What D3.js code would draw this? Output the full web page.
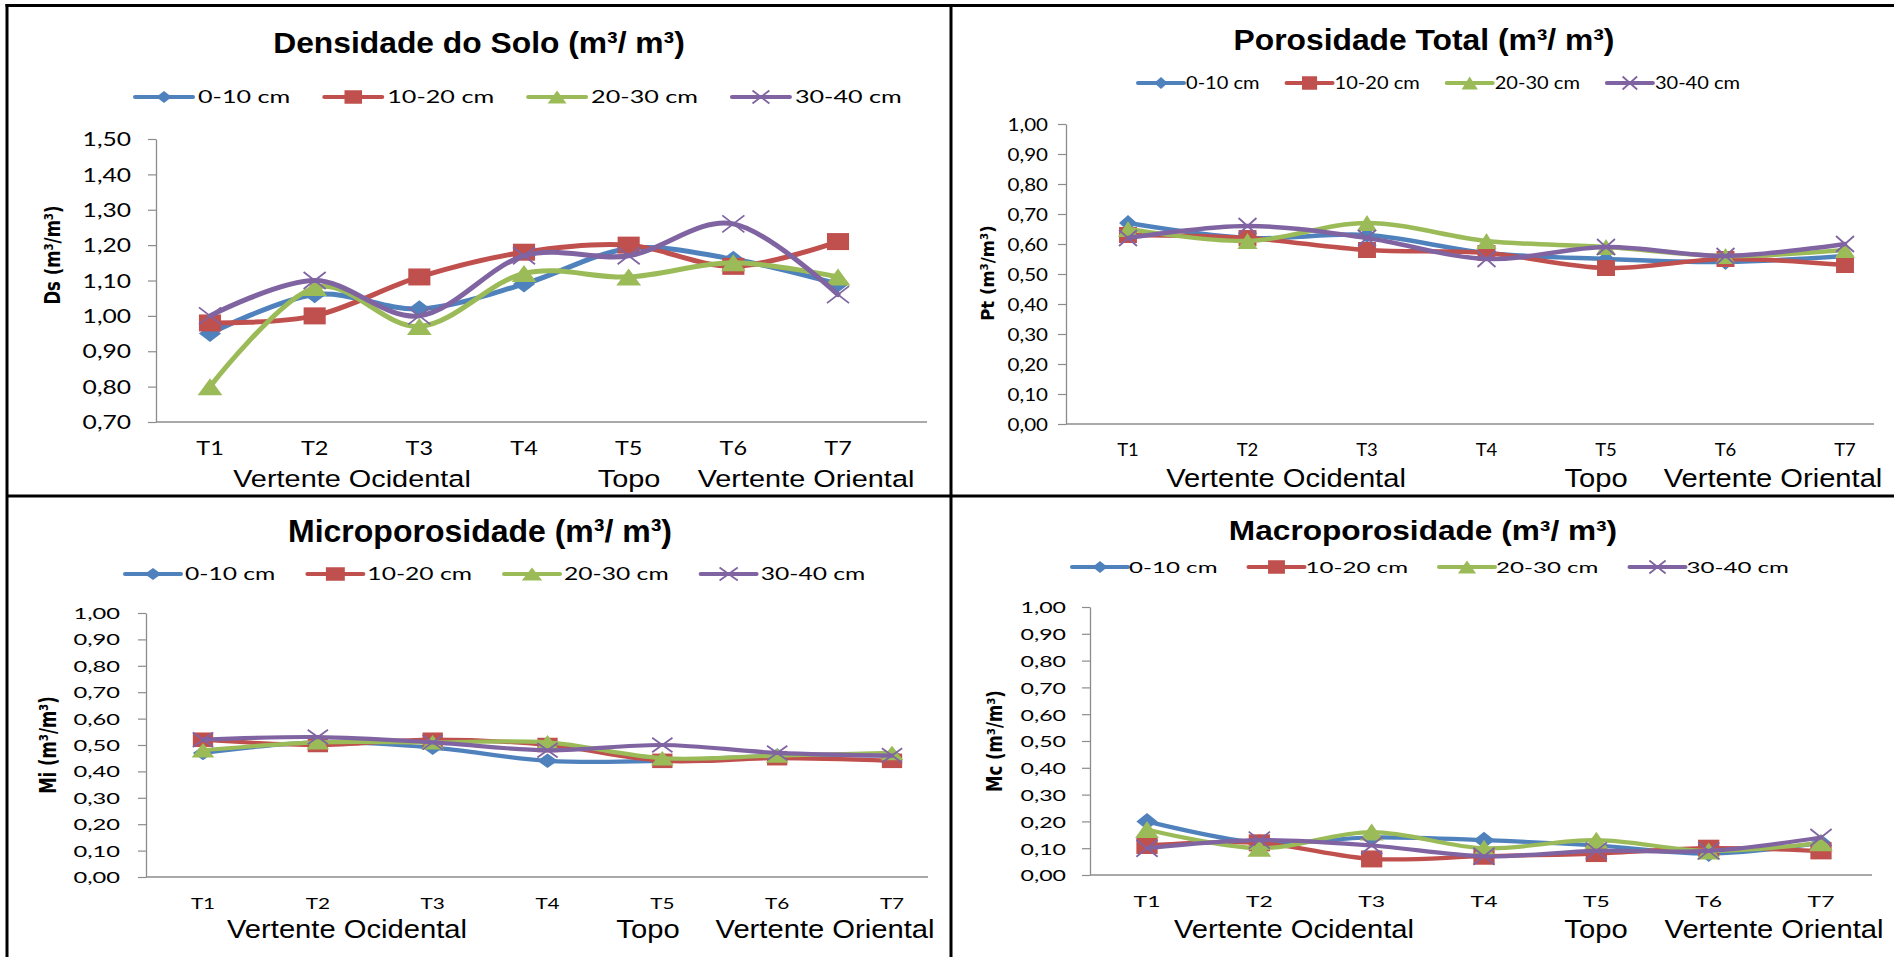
<!DOCTYPE html>
<html>
<head>
<meta charset="utf-8">
<script src="https://d3js.org/d3.v7.min.js"></script>
<style>
  body { margin: 0; background: #fff; }
  svg { display: block; }
</style>
</head>
<body>
<svg width="1894" height="957"></svg>
<script>
// ---- data ----
const categories = ["T1", "T2", "T3", "T4", "T5", "T6", "T7"];
const seriesNames = ["0-10 cm", "10-20 cm", "20-30 cm", "30-40 cm"];
const seriesColors = ["#4F81BD", "#C0504D", "#9BBB59", "#8064A2"];
const seriesMarkers = ["diamond", "square", "triangle", "x"];
const regionLabels = ["Vertente Ocidental", "Topo", "Vertente Oriental"];

// Densidade do Solo
const dsValues = [
    [0.95, 1.06, 1.02, 1.09, 1.19, 1.16, 1.09],
    [0.98, 1.00, 1.11, 1.18, 1.20, 1.14, 1.21],
    [0.80, 1.08, 0.97, 1.12, 1.11, 1.15, 1.11],
    [1.00, 1.10, 1.00, 1.17, 1.17, 1.26, 1.06]
];
const dsTicks = [0.70, 0.80, 0.90, 1.00, 1.10, 1.20, 1.30, 1.40, 1.50];

// Porosidade Total
const ptValues = [
    [0.67, 0.62, 0.63, 0.57, 0.55, 0.54, 0.56],
    [0.63, 0.62, 0.58, 0.57, 0.52, 0.55, 0.53],
    [0.65, 0.61, 0.67, 0.61, 0.59, 0.56, 0.58],
    [0.62, 0.66, 0.62, 0.55, 0.59, 0.56, 0.60]
];

// Microporosidade
const miValues = [
    [0.47, 0.51, 0.49, 0.44, 0.44, 0.46, 0.46],
    [0.52, 0.50, 0.52, 0.50, 0.44, 0.45, 0.44],
    [0.48, 0.51, 0.51, 0.51, 0.45, 0.46, 0.47],
    [0.52, 0.53, 0.51, 0.48, 0.50, 0.47, 0.46]
];

// Macroporosidade
const mcValues = [
    [0.20, 0.12, 0.14, 0.13, 0.11, 0.08, 0.12],
    [0.11, 0.12, 0.06, 0.07, 0.08, 0.10, 0.09],
    [0.17, 0.10, 0.16, 0.10, 0.13, 0.09, 0.12],
    [0.10, 0.13, 0.11, 0.07, 0.09, 0.09, 0.14]
];
const poroTicks = [0, 0.10, 0.20, 0.30, 0.40, 0.50, 0.60, 0.70, 0.80, 0.90, 1.00];

// ---- layout ----
const panels = [
    { title: "Densidade do Solo (m³/ m³)", yTitle: "Ds (m³/m³)", values: dsValues, ticks: dsTicks,
      x0: 156, xEnd: 927, xFirst: 210, xLast: 838, yTop: 139, yBot: 422,
      titleX: 479, titleY: 53, titleSize: 30, titleSx: 1.06,
      leg: { x: 135, y: 97, len: 58, gap: 5, space: 34, size: 17.6, sx: 1.43 },
      tickPad: 25, tickSize: 18.5, tickSx: 1.33,
      catY: 448, catSize: 18.5, catSx: 1.27,
      yTitleX: 52, yTitleY: 255, sx: 1.3,
      regX: [352, 629, 806], regY: 487, regSize: 23.3, regSx: 1.24,
      lw: 5, mh: 17 },
    { title: "Porosidade Total (m³/ m³)", yTitle: "Pt (m³/m³)", values: ptValues, ticks: poroTicks,
      x0: 1066, xEnd: 1874, xFirst: 1128, xLast: 1845, yTop: 124, yBot: 424,
      titleX: 1424, titleY: 50, titleSize: 29.3, titleSx: 1.085,
      leg: { x: 1138, y: 83, len: 46, gap: 2, space: 27, size: 17.6, sx: 1.14 },
      tickPad: 18, tickSize: 17, tickSx: 1.21,
      catY: 450, catSize: 17.6, catSx: 1.05,
      yTitleX: 987, yTitleY: 273, sx: 1.12,
      regX: [1286, 1596, 1773], regY: 487, regSize: 26.5, regSx: 1.1,
      lw: 4.5, mh: 16 },
    { title: "Microporosidade (m³/ m³)", yTitle: "Mi (m³/m³)", values: miValues, ticks: poroTicks,
      x0: 146, xEnd: 928, xFirst: 203, xLast: 892, yTop: 613, yBot: 877,
      titleX: 480, titleY: 542, titleSize: 32, titleSx: 1.0,
      leg: { x: 125, y: 574, len: 56, gap: 4, space: 32, size: 17.6, sx: 1.4 },
      tickPad: 26, tickSize: 15.3, tickSx: 1.55,
      catY: 903, catSize: 15.7, catSx: 1.32,
      yTitleX: 48, yTitleY: 745, sx: 1.4,
      regX: [347, 648, 825], regY: 938, regSize: 25.6, regSx: 1.14,
      lw: 4.2, mh: 14.5 },
    { title: "Macroporosidade (m³/ m³)", yTitle: "Mc (m³/m³)", values: mcValues, ticks: poroTicks,
      x0: 1090, xEnd: 1872, xFirst: 1147, xLast: 1821, yTop: 607, yBot: 875,
      titleX: 1423, titleY: 540, titleSize: 28, titleSx: 1.13,
      leg: { x: 1072, y: 567, len: 56, gap: 1, space: 31, size: 16.2, sx: 1.49 },
      tickPad: 24, tickSize: 16.2, tickSx: 1.43,
      catY: 901, catSize: 15.3, catSx: 1.5,
      yTitleX: 995, yTitleY: 741, sx: 1.25,
      regX: [1294, 1596, 1774], regY: 938, regSize: 25.6, regSx: 1.14,
      lw: 4.2, mh: 17 }
];

const axisColor = "#8c8c8c";
const calibri = "Lato, 'Open Sans', sans-serif";
const arial = "'Liberation Sans', Arial, sans-serif";
const verdana = "'DejaVu Sans', Verdana, sans-serif";

const svg = d3.select("svg");
const fmt = d3.formatLocale({ decimal: ",", thousands: ".", grouping: [3], currency: ["", ""] }).format(".2f");

// text with a horizontal stretch (the original charts were stretched sideways)
function txt(g, x, y, s, o) {
    let tr = `translate(${x},${y}) scale(${o.sx || 1},1)`;
    if (o.rot) tr += ` rotate(${o.rot})`;
    return g.append("text")
        .attr("transform", tr)
        .attr("text-anchor", o.anchor || "middle")
        .attr("dy", o.dy || 0)
        .style("font-family", o.font)
        .style("font-size", o.size + "px")
        .style("font-weight", o.weight || "normal")
        .attr("fill", "#000")
        .text(s);
}

function marker(g, type, cx, cy, h, sx, color) {
    const hh = h / 2, hw = h * sx / 2;
    if (type === "diamond") {
        g.append("path").attr("d", `M${cx},${cy - hh}L${cx + hw},${cy}L${cx},${cy + hh}L${cx - hw},${cy}Z`)
            .attr("fill", color);
    } else if (type === "square") {
        g.append("rect").attr("x", cx - hw).attr("y", cy - hh).attr("width", hw * 2).attr("height", h)
            .attr("fill", color);
    } else if (type === "triangle") {
        const tw = hw * 1.12;
        g.append("path").attr("d", `M${cx},${cy - hh}L${cx + tw},${cy + hh}L${cx - tw},${cy + hh}Z`)
            .attr("fill", color);
    } else {
        g.append("path").attr("d", `M${cx - hw},${cy - hh}L${cx + hw},${cy + hh}M${cx + hw},${cy - hh}L${cx - hw},${cy + hh}`)
            .attr("stroke", color).attr("stroke-width", 1.8).attr("fill", "none");
    }
}

function drawPanel(p) {
    const g = svg.append("g");
    const x = d3.scalePoint().domain(categories).range([p.xFirst, p.xLast]);
    const y = d3.scaleLinear().domain(d3.extent(p.ticks)).range([p.yBot, p.yTop]);

    // y axis
    const ya = g.append("g").attr("transform", `translate(${p.x0},0)`)
        .call(d3.axisLeft(y).tickValues(p.ticks).tickSize(8).tickSizeOuter(0).tickFormat(fmt));
    ya.attr("font-family", null).attr("font-size", null);
    ya.select(".domain").attr("stroke", axisColor).attr("stroke-width", 1.3);
    ya.selectAll(".tick line").attr("stroke", axisColor).attr("stroke-width", 1.2);
    ya.selectAll(".tick text")
        .attr("x", 0).attr("dy", "0.36em")
        .attr("transform", `translate(${-p.tickPad},0) scale(${p.tickSx},1)`)
        .attr("fill", "#000")
        .style("font-family", calibri).style("font-size", p.tickSize + "px");

    // x axis line
    g.append("line")
        .attr("x1", p.x0).attr("x2", p.xEnd)
        .attr("y1", y(p.ticks[0])).attr("y2", y(p.ticks[0]))
        .attr("stroke", axisColor).attr("stroke-width", 1.3);

    // category labels
    const xa = g.append("g").attr("transform", `translate(0,${p.catY})`)
        .call(d3.axisBottom(x).tickSize(0).tickPadding(0));
    xa.attr("font-family", null).attr("font-size", null);
    xa.select(".domain").remove();
    xa.selectAll(".tick text")
        .attr("y", 0).attr("dy", "0.36em")
        .attr("transform", `scale(${p.catSx},1)`)
        .attr("fill", "#000")
        .style("font-family", calibri).style("font-size", p.catSize + "px");
    xa.selectAll(".tick").each(function (d) {
        d3.select(this).attr("transform", `translate(${x(d)},0)`);
    });

    // series (Excel smoothed lines)
    const line = d3.line()
        .x((d, i) => x(categories[i]))
        .y(d => y(d))
        .curve(d3.curveCatmullRom.alpha(0));
    p.values.forEach((vals, si) => {
        const sg = g.append("g");
        sg.append("path").datum(vals)
            .attr("d", line)
            .attr("fill", "none")
            .attr("stroke", seriesColors[si])
            .attr("stroke-width", p.lw)
            .attr("stroke-linejoin", "round")
            .attr("stroke-linecap", "round");
        vals.forEach((v, i) => marker(sg, seriesMarkers[si], x(categories[i]), y(v), p.mh, p.sx, seriesColors[si]));
    });

    // title
    txt(g, p.titleX, p.titleY, p.title, { font: arial, size: p.titleSize, weight: "bold", sx: p.titleSx });

    // y axis title
    txt(g, p.yTitleX, p.yTitleY, p.yTitle, { font: verdana, size: 16.5, weight: "bold", sx: p.sx, rot: -90, dy: "0.36em" });

    // legend
    const lg = g.append("g");
    let cx = p.leg.x;
    const legSizes = [12, 13.5, 13, 13];
    seriesNames.forEach((name, si) => {
        lg.append("line")
            .attr("x1", cx).attr("x2", cx + p.leg.len)
            .attr("y1", p.leg.y).attr("y2", p.leg.y)
            .attr("stroke", seriesColors[si]).attr("stroke-width", 4)
            .attr("stroke-linecap", "round");
        marker(lg, seriesMarkers[si], cx + p.leg.len / 2, p.leg.y, legSizes[si], p.sx, seriesColors[si]);
        const t = txt(lg, cx + p.leg.len + p.leg.gap, p.leg.y, name,
            { font: calibri, size: p.leg.size, sx: p.leg.sx, anchor: "start", dy: "0.36em" });
        const w = t.node().getComputedTextLength() * p.leg.sx;
        cx += p.leg.len + p.leg.gap + w + p.leg.space;
    });

    // region labels under the axis
    regionLabels.forEach((r, i) => {
        txt(g, p.regX[i], p.regY, r, { font: arial, size: p.regSize, sx: p.regSx });
    });
}

panels.forEach(drawPanel);

// frame lines between the four charts
const frame = svg.append("g").attr("stroke", "#000").attr("stroke-width", 3);
frame.append("line").attr("x1", 5.5).attr("x2", 1894).attr("y1", 5.5).attr("y2", 5.5);
frame.append("line").attr("x1", 7).attr("x2", 7).attr("y1", 4).attr("y2", 957);
frame.append("line").attr("x1", 951).attr("x2", 951).attr("y1", 4).attr("y2", 957);
frame.append("line").attr("x1", 7).attr("x2", 1894).attr("y1", 496).attr("y2", 496);
</script>
</body>
</html>
